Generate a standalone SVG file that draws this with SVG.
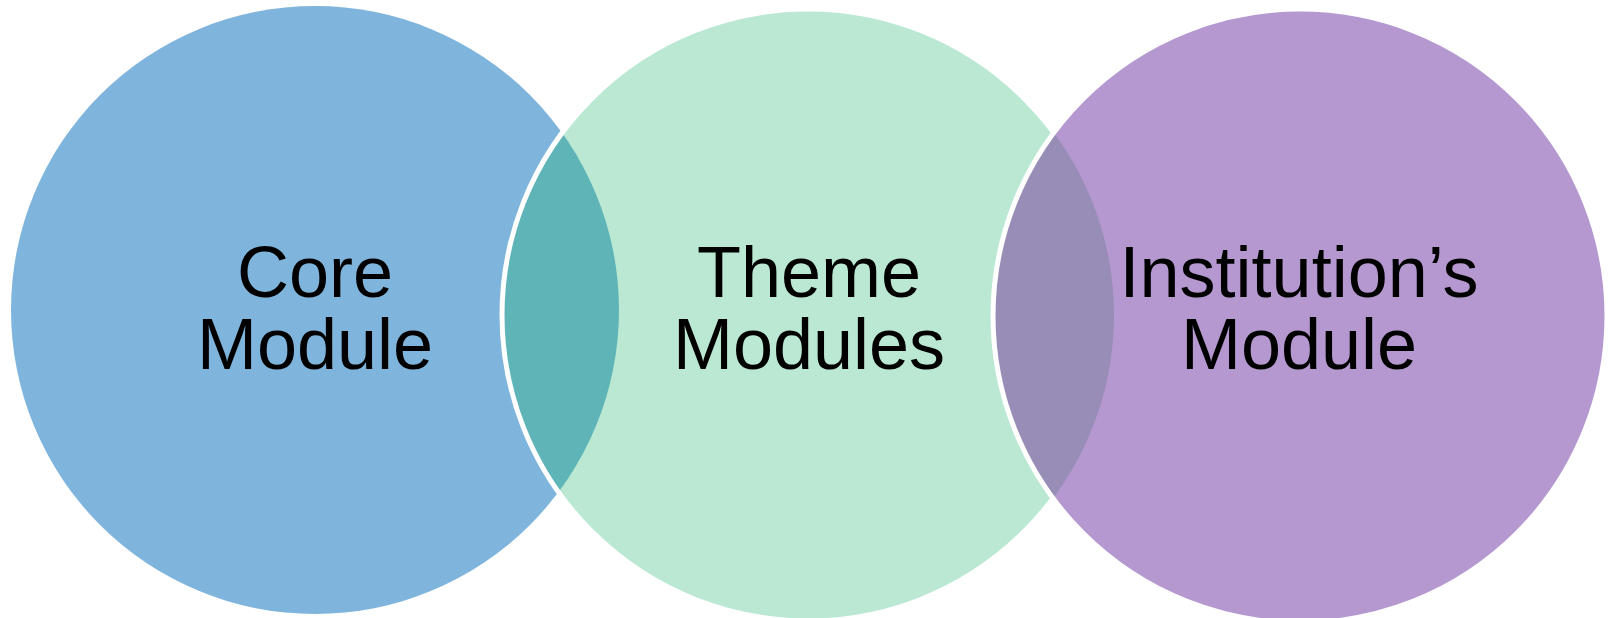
<svg xmlns="http://www.w3.org/2000/svg" width="1613" height="618" viewBox="0 0 1613 618">
<defs>
<style>
.lbl{font-family:"Liberation Sans",Arial,sans-serif;font-size:72px;fill:#000;text-anchor:middle}
.edge{fill:none;stroke:#fff;stroke-width:5}
</style>
<clipPath id="clipL"><circle cx="315" cy="310" r="304"/></clipPath>
<clipPath id="clipM"><circle cx="808" cy="315" r="306"/></clipPath>
</defs>
<rect width="1613" height="618" fill="#fff"/>
<g id="node-core">
<circle cx="315" cy="310" r="304" fill="#7FB5DD"/>
</g>
<g id="node-theme">
<circle cx="808" cy="315" r="306" fill="#BBE8D2"/>
<circle cx="808" cy="315" r="306" fill="#5FB4B8" clip-path="url(#clipL)"/>
<circle class="edge" cx="808" cy="315" r="306"/>
</g>
<g id="node-institution">
<circle cx="1300" cy="316" r="307" fill="#B598CF"/>
<circle cx="1300" cy="316" r="307" fill="#978DB7" clip-path="url(#clipM)"/>
<circle class="edge" cx="1300" cy="316" r="307"/>
</g>
<g id="labels">
<text class="lbl" x="315" y="297">Core</text>
<text class="lbl" x="315" y="369">Module</text>
<text class="lbl" x="809" y="297">Theme</text>
<text class="lbl" x="809" y="369">Modules</text>
<text class="lbl" x="1299" y="297">Institution’s</text>
<text class="lbl" x="1299" y="369">Module</text>
</g>
</svg>
